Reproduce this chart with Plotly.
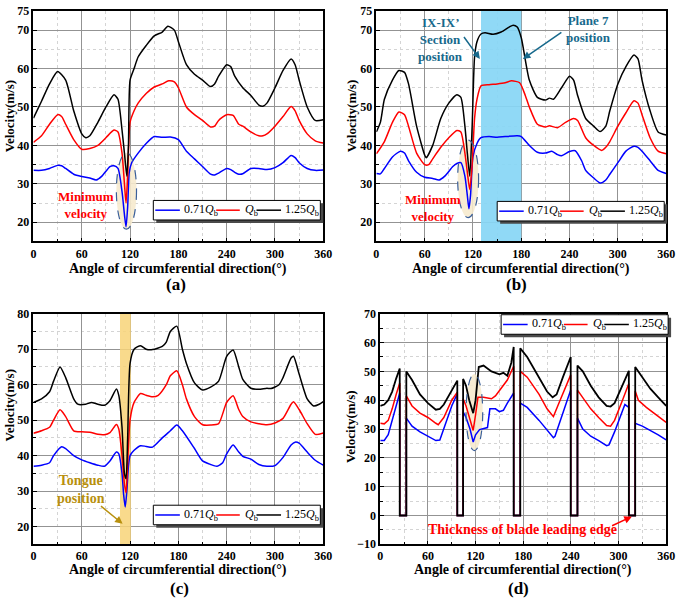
import plotly.graph_objects as go

# ---------------- data ----------------
# (a)
a_blue_x = [0, 10, 20, 30, 35, 40, 50, 60, 70, 78, 85, 95, 100, 105, 110, 113, 115, 117, 119, 122, 130, 140, 150, 160, 170, 180,
            190, 200, 210, 220, 225, 230, 240, 245, 250, 255, 260, 270, 280, 290, 300, 310, 320, 325, 330, 340, 350, 360]
a_blue_y = [33.5, 33.5, 34, 34.8, 34.7, 34, 32.5, 31.9, 31.5, 31, 32, 34.5, 34.7, 34, 28, 22, 18.8, 24, 33, 35.5, 38, 40.5, 42.3, 42.1, 42.2, 41.5,
            38.5, 36.5, 34.5, 32.5, 32.3, 32.8, 34, 33.7, 33, 32.5, 32.6, 34, 34, 33.7, 34.2, 35.5, 37.4, 36.8, 35.5, 34, 33.5, 33.6]
a_red_x = [0, 10, 20, 30, 35, 40, 50, 60, 70, 80, 90, 100, 105, 110, 113, 115, 117, 120, 125, 130, 140, 150, 160, 168, 175, 180,
           190, 200, 210, 220, 225, 230, 240, 248, 255, 260, 270, 280, 285, 290, 300, 310, 320, 325, 330, 340, 350, 360]
a_red_y = [40.8, 42.5, 45.5, 48, 47.5, 45.5, 41.5, 39, 39.2, 40, 42, 44, 43.5, 38, 30, 25, 32, 46, 49, 51, 53.5, 55.2, 56, 56.8, 56.5, 55,
           50, 48, 46.5, 44.8, 45, 46.5, 48, 47.8, 45.5, 45, 43.5, 42.5, 42.5, 43, 45, 47.5, 50.1, 49, 46.5, 43, 41.2, 40.6]
a_black_x = [0, 10, 20, 30, 40, 50, 60, 65, 70, 80, 90, 100, 105, 110, 113, 116, 118, 120, 125, 130, 140, 150, 160, 167, 175, 180,
             190, 200, 210, 220, 225, 230, 240, 245, 250, 260, 270, 280, 285, 290, 300, 310, 320, 325, 330, 340, 350, 360]
a_black_y = [47.1, 51.5, 56, 59.2, 57, 49, 43, 42, 42.5, 46, 50, 53.2, 52, 44, 38, 32, 40, 57, 60, 63, 66, 68.5, 69.5, 71, 70, 67,
             61, 58.5, 57, 55.3, 56, 58, 61, 60.5, 58, 55, 53, 50.5, 50.2, 51, 55, 59.5, 62.5, 61, 57, 50, 46.5, 46.7]

# (b)
b_blue_x = [0, 5, 10, 20, 30, 35, 40, 50, 60, 70, 78, 85, 95, 100, 105, 110, 113, 115, 117, 120, 125, 130, 140, 150, 160, 175, 180,
            190, 200, 210, 218, 225, 230, 240, 247, 255, 260, 270, 278, 285, 290, 300, 310, 320, 325, 330, 340, 350, 360]
b_blue_y = [32.7, 32.6, 34, 37, 38.5, 38, 36, 33, 31.7, 31.4, 31, 32, 34.5, 35.3, 35.5, 32, 27, 23.5, 27, 37, 40.5, 42, 42.3, 42.1, 42.3, 42.5, 42.3,
            40, 38.2, 38, 38.5, 37.6, 37.3, 38.4, 38.6, 36, 33.5, 31.5, 30.2, 31, 32.5, 35.5, 38.5, 39.8, 39.5, 38.5, 36, 33.5, 32.7]
b_red_x = [0, 10, 20, 28, 35, 40, 50, 60, 65, 70, 80, 90, 100, 105, 110, 113, 116, 119, 122, 125, 130, 140, 150, 160, 168, 178,
           185, 190, 200, 210, 215, 225, 235, 245, 250, 260, 270, 280, 285, 290, 300, 310, 320, 325, 330, 340, 350, 360]
b_red_y = [37.8, 41, 46, 48.7, 48, 45, 38, 35, 35, 36.5, 39.5, 42, 43.9, 43.5, 38, 33, 28.5, 35, 47, 52, 55.5, 55.8, 56, 56.3, 56.8, 56.3,
           53, 50, 45.5, 44.8, 45.1, 44.6, 46, 47, 46.5, 42, 40, 38.7, 39.5, 41, 45, 48.5, 51.6, 51, 48, 42, 38.5, 37.8]
b_black_x = [0, 5, 10, 20, 28, 35, 40, 50, 60, 62, 70, 80, 90, 100, 105, 110, 113, 116, 119, 122, 125, 130, 135, 145, 155, 165, 170, 175, 180,
             190, 200, 210, 215, 220, 230, 240, 245, 250, 260, 270, 278, 285, 290, 300, 310, 320, 325, 330, 340, 350, 360]
b_black_y = [43.5, 46, 52, 57, 59.5, 59, 56, 45, 37.5, 36.8, 40, 47, 51, 53.2, 52.5, 45, 38, 32, 45, 63, 67, 69, 69.3, 68.9, 69.5, 70.8, 71.3, 70.8, 68,
             57, 52.5, 51.8, 52.3, 52, 55, 58, 57, 53, 47, 45, 43.6, 45, 49, 56, 60.5, 63.5, 62.5, 57, 49, 43.5, 42.7]

# (c)
c_blue_x = [0, 10, 20, 25, 35, 40, 50, 60, 70, 80, 88, 95, 103, 106, 110, 112, 114, 116, 118, 120, 125, 133, 140, 148, 160, 170, 178,
            185, 200, 210, 220, 228, 235, 240, 248, 255, 260, 270, 280, 290, 300, 310, 320, 325, 330, 340, 350, 360]
c_blue_y = [37, 37.3, 38, 40, 42.5, 42, 40, 38.8, 38, 37.3, 37, 38.5, 41, 40.5, 35, 29, 25.5, 30, 37, 40, 41.5, 42.8, 42.6, 42.4, 45, 47, 48.6,
            47, 42, 38.5, 37.5, 37, 38, 40.5, 43, 41, 39.8, 39, 37.5, 37, 37.2, 39.5, 43, 43.8, 43.5, 41, 38.7, 37.3]
c_red_x = [0, 10, 20, 25, 33, 40, 50, 60, 70, 80, 88, 95, 103, 106, 110, 113, 115, 117, 120, 125, 133, 140, 148, 155, 165, 170, 178,
           185, 190, 200, 210, 220, 230, 240, 248, 255, 260, 270, 280, 290, 300, 310, 320, 323, 330, 340, 350, 360]
c_red_y = [46.3, 47, 48, 50, 52.9, 51, 47, 46.7, 46.6, 46, 45.9, 46.5, 48.8, 47.5, 40, 32, 29.5, 38, 50, 55, 57.5, 57, 56.6, 57, 60, 62.5, 63.9,
           60, 56, 51, 48.7, 48.6, 49, 55, 56.9, 53, 51, 49.5, 49, 48.7, 49.2, 50.5, 54.5, 55.2, 53, 49, 46, 46.4]
c_black_x = [0, 10, 20, 25, 33, 40, 50, 55, 65, 72, 80, 88, 95, 103, 106, 110, 113, 115, 117, 120, 125, 133, 140, 148, 160, 165, 170, 178,
             185, 190, 200, 210, 220, 230, 240, 248, 255, 260, 270, 280, 290, 295, 305, 310, 320, 323, 330, 340, 348, 355, 360]
c_black_y = [55, 56, 58, 61, 65, 62, 56, 54.5, 54.5, 55, 54.5, 54.2, 55.5, 58.8, 57, 48, 35, 33.5, 45, 66, 70, 71, 70, 69.9, 70.8, 72, 75, 76.5,
             70, 66, 60.5, 58.5, 59.3, 61, 68, 69.8, 65, 61.5, 59, 58.7, 59, 58.9, 60, 62, 67.5, 68, 63, 56, 54, 54.5, 55.2]

# (d)  velocity drops to 0 across each blade leading edge
d_blue_x = [0, 5, 10, 15, 20, 24.5, 24.5, 32.8, 32.8, 40, 50, 60, 70, 75, 80, 90, 97, 97, 104.3, 104.3, 108, 113, 117, 120, 125, 135, 138,
            145, 150, 155, 160, 168, 168, 176.3, 176.3, 185, 200, 210, 218, 220, 230, 239.8, 239.8, 248.3, 248.3, 255, 265, 275, 285, 288,
            295, 305, 308, 313, 313, 321, 321, 330, 340, 350, 360]
d_blue_y = [26, 26, 28, 33, 38, 42.5, 0, 0, 33.8, 31, 29, 27.5, 26, 26.2, 30, 38, 42.3, 0, 0, 36, 34, 30, 25.5, 28, 29.8, 30.5, 37,
            37, 36, 36.5, 39, 42.5, 0, 0, 39, 37.5, 33, 29.5, 27, 27.5, 36, 43.5, 0, 0, 33.8, 30, 27.5, 26, 24.2, 24.5,
            29, 36, 38.5, 37.5, 0, 0, 32, 31, 29.5, 28, 26.2]
d_red_x = [0, 5, 10, 15, 20, 24.5, 24.5, 32.8, 32.8, 40, 50, 60, 70, 73, 80, 90, 97, 97, 104.3, 104.3, 108, 113, 117, 120, 123, 130,
           140, 145, 160, 168, 168, 176.3, 176.3, 185, 200, 210, 218, 225, 235, 239.8, 239.8, 248.3, 248.3, 255, 265, 275, 285, 290,
           295, 305, 313, 313, 321, 321, 325, 335, 345, 355, 360]
d_red_y = [32, 31.8, 33, 37, 42, 46, 0, 0, 41.5, 38, 35.5, 34, 32, 31.5, 34, 40, 42.8, 0, 0, 40.5, 38, 33, 29.5, 35, 41, 41,
           40.5, 41.5, 47, 51.8, 0, 0, 50, 48, 42, 37, 34.3, 39, 46, 48.8, 0, 0, 43.5, 41, 37, 34, 31.2, 31,
           33, 40, 45.8, 0, 0, 43.2, 40, 37.5, 35.5, 33.5, 32.3]
d_black_x = [0, 5, 10, 15, 20, 24.5, 24.5, 32.8, 32.8, 40, 50, 60, 70, 75, 80, 90, 97, 97, 104.3, 104.3, 108, 112, 117, 120, 124, 130,
             140, 150, 155, 160, 165, 168, 168, 176.3, 176.3, 185, 200, 210, 217, 222, 230, 239.8, 239.8, 248.3, 248.3, 255, 265, 275,
             285, 290, 295, 305, 313, 313, 321, 321, 330, 340, 350, 360]
d_black_y = [38, 38.5, 40, 43, 47.5, 51, 0, 0, 50, 47, 42, 39, 36.7, 37, 38.5, 43.5, 46.8, 0, 0, 47.4, 45, 40, 35.5, 40, 51.5, 52,
             50, 49, 49.5, 48.5, 53, 58.5, 0, 0, 58, 55, 48, 43, 41, 42, 48, 55, 0, 0, 52, 50, 45, 41,
             38, 37.8, 39, 45, 50.2, 0, 0, 51.5, 48, 44, 41, 38]

x_ticks = [0, 60, 120, 180, 240, 300, 360]
y_ticks_ab = [20, 30, 40, 50, 60, 70, 75]
y_ticks_c = [20, 30, 40, 50, 60, 70, 80]
y_ticks_d = [-10, 0, 10, 20, 30, 40, 50, 60, 70]

names = ["0.71<i>Q</i><sub>b</sub>", "<i>Q</i><sub>b</sub>", "1.25<i>Q</i><sub>b</sub>"]
colors = ["#0000ff", "#ff0000", "#000000"]

FONT = "Liberation Serif"
W, H = 685, 606

panels = [
    ("", [(a_blue_x, a_blue_y), (a_red_x, a_red_y), (a_black_x, a_black_y)], "spline"),
    ("2", [(b_blue_x, b_blue_y), (b_red_x, b_red_y), (b_black_x, b_black_y)], "spline"),
    ("3", [(c_blue_x, c_blue_y), (c_red_x, c_red_y), (c_black_x, c_black_y)], "spline"),
    ("4", [(d_blue_x, d_blue_y), (d_red_x, d_red_y), (d_black_x, d_black_y)], "linear"),
]

fig = go.Figure()

for suffix, series, shape in panels:
    for i, (xs, ys) in enumerate(series):
        # black is drawn last and a touch wider so it hides the shared blade notches in (d)
        width = 1.8 if (suffix == "4" and i == 2) else 1.5
        fig.add_trace(go.Scatter(
            x=xs, y=ys, mode="lines", name=names[i], showlegend=False,
            line=dict(color=colors[i], width=width, shape=shape, smoothing=0.6),
            xaxis="x" + suffix, yaxis="y" + suffix,
        ))


def xax(domain, anchor):
    return dict(
        domain=domain, anchor=anchor, range=[0, 360], tickmode="array", tickvals=x_ticks,
        ticks="inside", ticklen=4, tickcolor="black", showline=True, mirror=True,
        linecolor="black", linewidth=1.5, showgrid=True, gridcolor="#939393", gridwidth=1,
        zeroline=False, tickfont=dict(family=FONT, size=12, color="black", weight="bold"),
        minor=dict(dtick=30, tick0=0, ticks="inside", ticklen=3, tickcolor="black",
                   showgrid=True, gridcolor="#d4d4d4", griddash="dot"),
    )


def yax(domain, anchor, rng, tv):
    return dict(
        domain=domain, anchor=anchor, range=rng, tickmode="array", tickvals=tv,
        ticks="inside", ticklen=4, tickcolor="black", showline=True, mirror=True,
        linecolor="black", linewidth=1.5, showgrid=True, gridcolor="#939393", gridwidth=1,
        zeroline=False, tickfont=dict(family=FONT, size=12, color="black", weight="bold"),
        minor=dict(dtick=5, tick0=0, ticks="inside", ticklen=3, tickcolor="black",
                   showgrid=True, gridcolor="#d4d4d4", griddash="dot"),
    )


dA_x = [31 / W, 326 / W]
dB_x = [380 / W, 675 / W]
dD_x = [384 / W, 675 / W]
top_y = [1 - 240 / H, 1 - 4 / H]
bot_y = [1 - 550 / H, 1 - 314 / H]

fig.update_layout(
    width=W, height=H, margin=dict(l=0, r=0, t=0, b=0),
    paper_bgcolor="white", plot_bgcolor="white",
    font=dict(family=FONT, color="black"),
    showlegend=False,
    xaxis=xax(dA_x, "y"), yaxis=yax(top_y, "x", [15, 75], y_ticks_ab),
    xaxis2=xax(dB_x, "y2"), yaxis2=yax(top_y, "x2", [15, 75], y_ticks_ab),
    xaxis3=xax(dA_x, "y3"), yaxis3=yax(bot_y, "x3", [15, 80], y_ticks_c),
    xaxis4=xax(dD_x, "y4"), yaxis4=yax(bot_y, "x4", [-10, 70], y_ticks_d),
)

# highlighted regions
fig.add_shape(type="rect", xref="x2", yref="y2", x0=130, x1=180, y0=15, y1=75,
              fillcolor="rgba(135,214,245,0.92)", line_width=0, layer="between")
fig.add_shape(type="rect", xref="x3", yref="y3", x0=107.5, x1=121, y0=15, y1=80,
              fillcolor="rgba(248,212,120,0.85)", line_width=0, layer="between")

# dashed ellipses
for xr, yr, x0, x1, y0, y1 in [("x", "y", 103, 128, 18.2, 38.1),
                               ("x2", "y2", 101, 127, 21.2, 41.4),
                               ("x4", "y4", 108, 129, 22.5, 49.1)]:
    fig.add_shape(type="circle", xref=xr, yref=yr, x0=x0, x1=x1, y0=y0, y1=y1,
                  fillcolor="rgba(246,234,206,0.9)", line_width=0, layer="between")
    fig.add_shape(type="circle", xref=xr, yref=yr, x0=x0, x1=x1, y0=y0, y1=y1,
                  line=dict(color="#3a5f9a", width=1.2, dash="dash"), layer="above")

bold = dict(family=FONT, size=13, weight="bold")
teal = "#17698c"
gold = "#b8900e"

ann = [
    dict(xref="x", yref="y", x=65, y=24.6, text="Minimum<br>velocity", showarrow=False,
         font=dict(bold, color="#ff0000")),
    dict(xref="x2", yref="y2", x=70, y=23.8, text="Minimum<br>velocity", showarrow=False,
         font=dict(bold, color="#ff0000")),
    dict(xref="x2", yref="y2", x=80, y=71.9, text="IX-IX’", showarrow=False, font=dict(bold, color=teal)),
    dict(xref="x2", yref="y2", x=80, y=65.3, text="Section<br>position", showarrow=False, font=dict(bold, color=teal)),
    dict(xref="x2", yref="y2", x=264, y=70.3, text="Plane 7<br>position", showarrow=False, font=dict(bold, color=teal)),
    dict(xref="x2", yref="y2", x=128.6, y=62.5, ax=107.5, ay=68.6, axref="x2", ayref="y2", text="",
         showarrow=True, arrowhead=2, arrowsize=1, arrowwidth=1.5, arrowcolor=teal),
    dict(xref="x2", yref="y2", x=182, y=62.5, ax=231.7, ay=69.7, axref="x2", ayref="y2", text="",
         showarrow=True, arrowhead=2, arrowsize=1, arrowwidth=1.5, arrowcolor=teal),
    dict(xref="x3", yref="y3", x=59, y=30.4, text="Tongue<br>position", showarrow=False,
         font=dict(bold, size=14, color=gold)),
    dict(xref="x3", yref="y3", x=110.7, y=20.8, ax=82, ay=26.1, axref="x3", ayref="y3", text="",
         showarrow=True, arrowhead=2, arrowsize=1, arrowwidth=1.5, arrowcolor=gold),
    dict(xref="x4", yref="y4", x=179, y=-4.7, text="Thickness of blade leading edge", showarrow=False,
         font=dict(bold, size=14, color="#ff0000")),
    dict(xref="x4", yref="y4", x=316.7, y=-0.4, ax=290, ay=-3.8, axref="x4", ayref="y4", text="",
         showarrow=True, arrowhead=2, arrowsize=1, arrowwidth=1.5, arrowcolor="#ff0000"),
]


def paper_text(text, cx, cy, size, weight="bold", angle=0, anchor="center"):
    return dict(xref="paper", yref="paper", x=cx / W, y=1 - cy / H, text=text, showarrow=False,
                xanchor=anchor, yanchor="middle", textangle=angle,
                font=dict(family=FONT, size=size, weight=weight, color="black"))


xtitle = "Angle of circumferential direction(°)"
for cx, cy in [(178, 268), (527, 268), (178, 576), (529, 576)]:
    ann.append(paper_text(xtitle, cx, cy, 14))
for cx, cy in [(7, 112), (355, 112), (7, 408), (353, 430)]:
    ann.append(paper_text("Velocity(m/s)", cx, cy, 13, angle=-90))
for lbl, cx, cy in [("(a)", 176, 284), ("(b)", 523, 284), ("(c)", 180, 595), ("(d)", 525, 595)]:
    ann.append(paper_text(lbl, cx, cy, 17))

# legend boxes (one per panel), drawn as a framed strip with shadow
item_layout = [(2, 27, 29), (64, 88, 91), (105, 130, 132)]  # line start, line end, text start (px from box left)
LEG_W, LEG_H = 170, 20


def px(x):
    return x / W


def py(y):
    return 1 - y / H


for left, top in [(153, 198), (503, 199), (153, 510), (507, 315)]:
    fig.add_shape(type="rect", xref="paper", yref="paper", x0=px(left + 3), x1=px(left + LEG_W + 3),
                  y0=py(top + LEG_H + 3), y1=py(top + 3), fillcolor="#4a4a4a", line_width=0, layer="above")
    fig.add_shape(type="rect", xref="paper", yref="paper", x0=px(left), x1=px(left + LEG_W),
                  y0=py(top + LEG_H), y1=py(top), fillcolor="white",
                  line=dict(color="black", width=1), layer="above")
    cy = top + LEG_H / 2
    for (l0, l1, t0), name, col in zip(item_layout, names, colors):
        fig.add_shape(type="line", xref="paper", yref="paper", x0=px(left + l0), x1=px(left + l1),
                      y0=py(cy), y1=py(cy), line=dict(color=col, width=1.5), layer="above")
        ann.append(paper_text(name, left + t0, cy, 12, weight="normal", anchor="left"))

fig.update_layout(annotations=ann)

# drop the default 8px page margin so the figure sits at the window corner
fig.write_html("out.html", config={"displayModeBar": False},
               post_script="document.body.style.margin='0';")
